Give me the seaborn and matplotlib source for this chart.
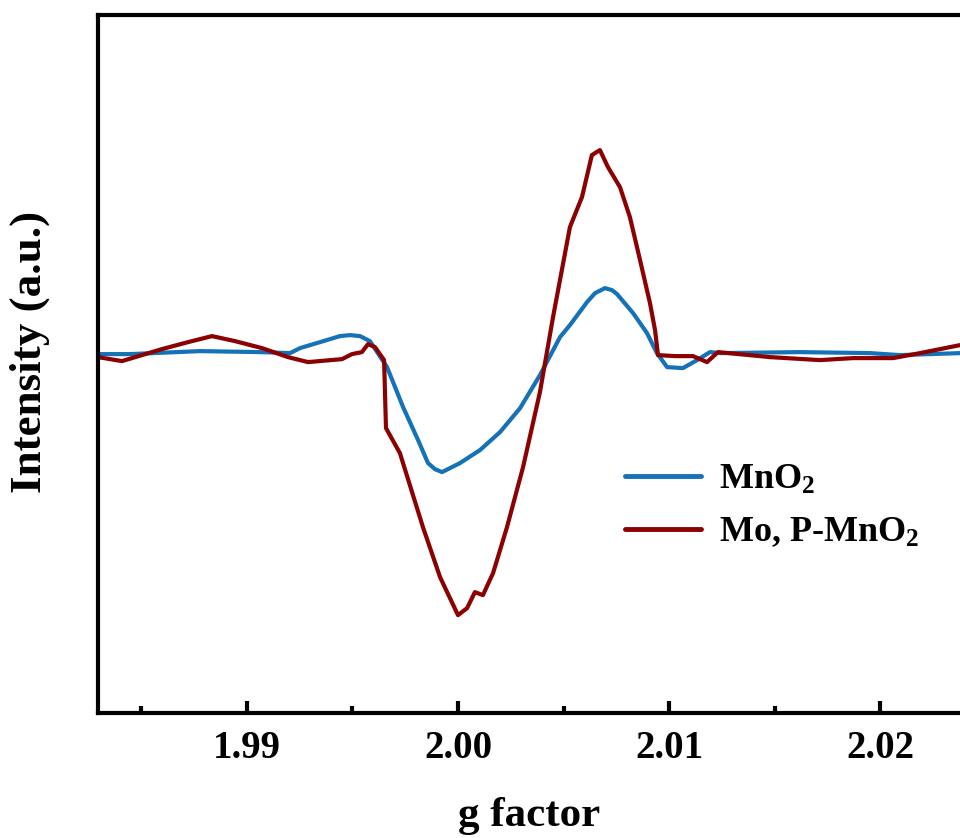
import numpy as np
import pandas as pd
import matplotlib
matplotlib.use("Agg")
import matplotlib.pyplot as plt
import seaborn as sns

# ---- data ----
g_mno2 = [1.98295, 1.98447, 1.98778, 1.99063, 1.99205, 1.99252, 1.99347, 1.99441,
          1.99489, 1.99536, 1.99583, 1.99664, 1.99740, 1.99811, 1.99858, 1.99891,
          1.99924, 1.99962, 2.00009, 2.00104, 2.00199, 2.00294, 2.00388, 2.00483,
          2.00530, 2.00611, 2.00649, 2.00696, 2.00729, 2.00753, 2.00829, 2.00895,
          2.00942, 2.00990, 2.01065, 2.01132, 2.01193, 2.01241, 2.01619, 2.01951,
          2.02093, 2.02377]
i_mno2 = [0, 0, 3, 2, 1, 6, 12, 18,
          19, 18, 13, -13, -53, -86, -109, -115,
          -118, -114, -109, -96, -78, -54, -21, 17,
          29, 52, 61, 66, 64, 60, 41, 21,
          1, -13, -14, -6, 2, 1, 2, 1,
          -1, 1]

g_mop = [1.98295, 1.98409, 1.98598, 1.98722, 1.98835, 1.98944, 1.99072, 1.99195,
         1.99290, 1.99451, 1.99498, 1.99545, 1.99574, 1.99607, 1.99650, 1.99659,
         1.99725, 1.99834, 1.99915, 2.00000, 2.00043, 2.00080, 2.00118, 2.00166,
         2.00232, 2.00308, 2.00388, 2.00450, 2.00530, 2.00587, 2.00634, 2.00672,
         2.00710, 2.00767, 2.00814, 2.00862, 2.00909, 2.00933, 2.00947, 2.01027,
         2.01113, 2.01146, 2.01179, 2.01231, 2.01477, 2.01714, 2.01870, 2.02060,
         2.02188, 2.02377]
i_mop = [-3, -7, 5, 12, 18, 13, 6, -3,
         -8, -5, 0, 2, 10, 7, -6, -74,
         -99, -173, -223, -261, -254, -238, -241, -219,
         -173, -113, -38, 37, 127, 157, 199, 204,
         187, 167, 137, 94, 51, 24, -1, -2,
         -2, -5, -8, 2, -3, -6, -4, -4,
         1, 9]

labels = ["MnO$_2$", "Mo, P-MnO$_2$"]
colors = ["#1572b6", "#8b0000"]
xticks = [1.99, 2.00, 2.01, 2.02]
xtick_labels = ["1.99", "2.00", "2.01", "2.02"]

df = pd.concat([
    pd.DataFrame({"g": g_mno2, "I": i_mno2, "sample": labels[0]}),
    pd.DataFrame({"g": g_mop, "I": i_mop, "sample": labels[1]}),
], ignore_index=True)

sns.set_style("white")
plt.rcParams["font.family"] = ["Liberation Serif", "DejaVu Serif"]
plt.rcParams["font.weight"] = "bold"
plt.rcParams["text.color"] = "black"
plt.rcParams["axes.labelcolor"] = "black"
plt.rcParams["xtick.color"] = "black"
plt.rcParams["mathtext.fontset"] = "custom"
plt.rcParams["mathtext.rm"] = "Liberation Serif:bold"
plt.rcParams["mathtext.it"] = "Liberation Serif:bold"
plt.rcParams["mathtext.bf"] = "Liberation Serif:bold"

fig = plt.figure(figsize=(9.6, 8.38), dpi=100)
ax = fig.add_axes([0.102, 0.149, 0.898, 0.833])

sns.lineplot(data=df, x="g", y="I", hue="sample", palette=colors,
             hue_order=labels, sort=False, estimator=None, linewidth=3, ax=ax)

ax.set_xlim(1.98295, 2.02377)
ax.set_ylim(-359, 339)
ax.set_xticks(xticks)
ax.set_xticklabels(xtick_labels)
ax.set_xticks([1.985, 1.995, 2.005, 2.015], minor=True)
ax.set_yticks([])

for s in ["left", "bottom", "top"]:
    ax.spines[s].set_linewidth(3)
    ax.spines[s].set_color("black")
ax.spines["right"].set_visible(False)

ax.tick_params(axis="x", which="major", direction="in", length=9, width=3,
               labelsize=28, pad=12, bottom=True, colors="black")
ax.tick_params(axis="x", which="minor", direction="in", length=5, width=3,
               bottom=True, colors="black")
for lab in ax.get_xticklabels():
    lab.set_fontweight("bold")

ax.set_xlabel("g factor", fontsize=31, fontweight="bold", labelpad=22)
ax.set_ylabel("Intensity (a.u.)", fontsize=32.5, fontweight="bold")
ax.yaxis.set_label_coords(-0.056, 0.517)

leg = ax.legend(loc="upper left", bbox_to_anchor=(0.595, 0.378), frameon=False,
                fontsize=26, handlelength=2.1, handletextpad=0.5, labelspacing=0.52,
                borderaxespad=0.0)
for line in leg.get_lines():
    line.set_linewidth(3.5)

fig.savefig("out.png", dpi=100)
